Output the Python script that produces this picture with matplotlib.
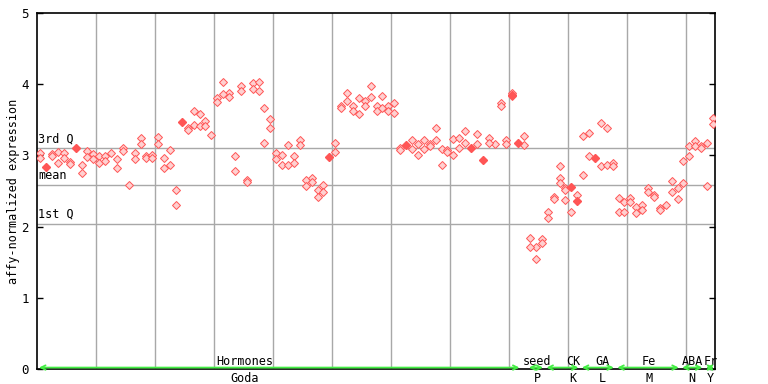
import numpy as np
import matplotlib
matplotlib.use('Agg')
import matplotlib.pyplot as plt

nan = np.nan

# replicate values per sample (index 0..114), nan where no point is drawn
rep_a = [3.03, nan, 3.02, 3.05, 3.03, 2.91, nan, 2.87, 3.06, 3.02,
         2.99, 2.99, 3.04, 2.95, 3.11, 2.58, 3.04, 3.24, 2.99, 3.00,
         3.26, 2.97, 3.08, 2.52, nan, 3.38, 3.62, 3.58, 3.49, 3.28,
         3.80, 4.03, 3.87, 2.99, 3.97, 2.65, 4.01, 4.03, 3.66, 3.51,
         3.03, 3.01, 3.14, 2.99, 3.21, 2.65, 2.68, 2.51, 2.58, nan,
         3.17, 3.70, 3.87, 3.69, 3.80, 3.77, 3.98, 3.70, 3.84, 3.69,
         3.73, 3.11, nan, 3.21, 3.16, 3.22, 3.16, 3.38, 3.09, 3.08,
         3.23, 3.25, 3.34, nan, 3.30, nan, 3.25, 3.16, 3.73, 3.21,
         3.87, nan, 3.27, 1.84, 1.71, 1.82, 2.20, 2.41, 2.85, 2.54,
         2.20, 2.44, 3.27, 3.31, nan, 3.45, 3.38, 2.90, 2.40, 2.34,
         2.40, 2.27, 2.30, 2.54, 2.45, 2.26, 2.31, 2.64, 2.54, 2.92,
         3.13, 3.20, 3.13, 3.18, 3.52]
rep_b = [2.96, nan, 2.99, 2.89, 2.97, 2.88, nan, 2.75, 2.98, 2.95,
         2.89, 2.92, nan, 2.82, 3.06, nan, 2.95, 3.16, 2.96, 2.97,
         3.16, 2.83, 2.87, 2.31, nan, 3.35, 3.42, 3.41, 3.41, nan,
         3.75, 3.86, 3.82, 2.78, 3.91, 2.62, 3.93, 3.90, 3.18, 3.39,
         2.95, 2.87, 2.87, 2.90, 3.14, 2.57, 2.62, 2.41, 2.48, nan,
         3.05, 3.66, 3.76, 3.63, 3.58, 3.70, 3.82, 3.62, 3.66, 3.63,
         3.59, 3.08, nan, 3.09, 3.01, 3.09, 3.13, 3.21, 2.86, 3.05,
         3.00, 3.10, 3.17, nan, 3.16, nan, 3.17, nan, 3.70, 3.16,
         3.83, nan, 3.14, 1.71, 1.55, 1.77, 2.12, 2.39, 2.68, 2.51,
         nan, nan, 2.72, 2.99, nan, 2.85, 2.87, 2.85, 2.21, 2.21,
         2.34, 2.19, 2.24, 2.48, 2.42, 2.23, nan, 2.48, 2.39, 2.61,
         2.99, 3.13, 3.10, 2.57, 3.44]
extra_idx = [88, 89]
extra_val = [2.61, 2.37]
solid_idx = [1, 6, 24, 49, 62, 73, 75, 80, 81, 90, 91, 94]
solid_val = [2.84, 3.11, 3.47, 2.98, 3.14, 3.11, 2.93, 3.85, 3.18, 2.55, 2.36, 2.97]

q3_val, mean_val, q1_val = 3.10, 2.58, 2.04

group_name = ['Hormones', 'seed', 'CK', 'GA', 'Fe', 'ABA', 'Fr']
group_code = ['Goda', 'P', 'K', 'L', 'M', 'N', 'Y']
group_first = [0, 83, 86, 92, 98, 109, 113]
group_last = [81, 85, 91, 97, 108, 112, 114]

red = '#ff5555'
red_light = '#ffd0d0'
grey = '#a8a8a8'
green = '#44ee44'
mono = 'DejaVu Sans Mono'

fig = plt.figure(figsize=(7.68, 3.84), dpi=100)
ax = fig.add_axes([37.3 / 768, 15 / 384, 678 / 768, 356 / 384])

x = np.arange(len(rep_a))
for arr in (rep_a, rep_b):
    ax.plot(x, arr, ls='none', marker='D', ms=3.7, mfc=red_light,
            mec=red, mew=0.7, zorder=4)
ax.plot(extra_idx, extra_val, ls='none', marker='D', ms=3.7, mfc=red_light,
        mec=red, mew=0.7, zorder=4)
ax.plot(solid_idx, solid_val, ls='none', marker='D', ms=4.3, color=red,
        zorder=5)

ax.set_xlim(-0.5, 114.4)
ax.set_ylim(0, 5)
ax.set_xticks(np.arange(9.5, 114, 10))
ax.tick_params(axis='x', length=0, labelbottom=False)
ax.set_yticks(range(6))
ax.tick_params(axis='y', direction='in', length=4.5, width=1, right=True,
               labelsize=9, pad=6)
for lab in ax.get_yticklabels():
    lab.set_family(mono)
ax.grid(axis='x', color=grey, lw=1)
for sp in ax.spines.values():
    sp.set_linewidth(1.2)

for val, txt in ((q3_val, '3rd Q'), (mean_val, 'mean'), (q1_val, '1st Q')):
    ax.axhline(val, color=grey, lw=1, zorder=1)
    ax.text(-0.4, val + 0.04, txt, family=mono, fontsize=8.5,
            ha='left', va='bottom')

ax.set_ylabel('affy-normalized expression', family=mono, fontsize=8.5,
              labelpad=1)

# group arrows and labels along the bottom
label_at = [34.6, 84.2, 90.3, 95.2, 103.2, 110.5, 113.6]
for first, last, name, code, lx in zip(group_first, group_last, group_name,
                                       group_code, label_at):
    ax.annotate('', xy=(last + 0.2, 0.02), xytext=(first - 0.2, 0.02),
                arrowprops=dict(arrowstyle='<->', color=green, lw=1.3,
                                shrinkA=0, shrinkB=0,
                                mutation_scale=8),
                annotation_clip=False, zorder=6)
    ax.annotate(name, xy=(lx, 0), xytext=(0, 1), textcoords='offset points',
                ha='center', va='bottom', family=mono, fontsize=8.5,
                annotation_clip=False)
    ax.annotate(code, xy=(lx, 0), xytext=(0, -2.5), textcoords='offset points',
                ha='center', va='top', family=mono, fontsize=8.5,
                annotation_clip=False)

fig.savefig('out.png', dpi=100)
